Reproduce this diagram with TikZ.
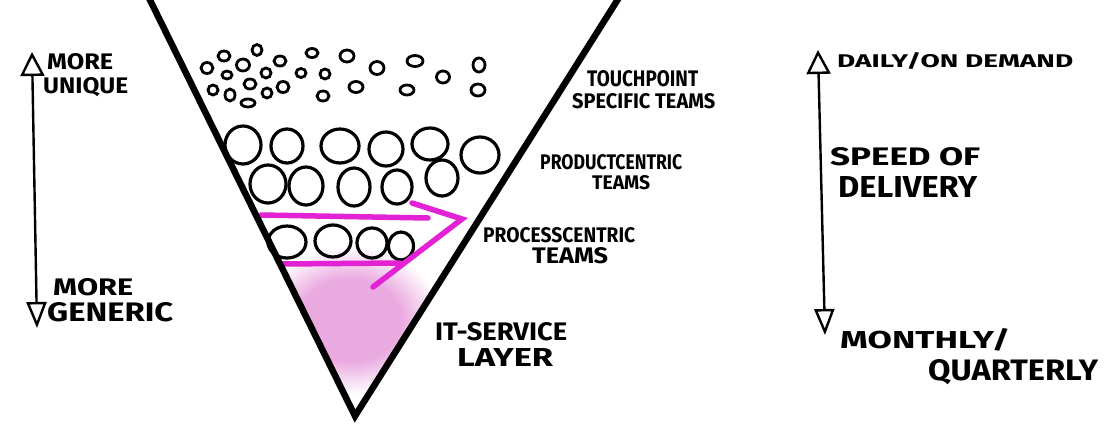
\documentclass[tikz,border=0pt]{standalone}
\usepackage{fontspec}
\setmainfont{Fira Sans}
\usepackage{graphicx}
\usepackage{xcolor}
\usepackage{tikz}
\usetikzlibrary{arrows.meta}

\definecolor{flowpink}{RGB}{226,34,212}
\definecolor{blobpink}{RGB}{234,170,224}
\pgfdeclareradialshading{blobshade}{\pgfpoint{0bp}{0bp}}{color(0bp)=(blobpink);
  color(14bp)=(blobpink); color(25bp)=(white); color(50bp)=(white)}
\newcommand{\sketchtext}[3]{\resizebox{#1pt}{#2pt}{\bfseries #3}}

\begin{document}
\begin{tikzpicture}[x=1pt, y=-1pt,
  funnel/.style={line width=6.5pt},
  team/.style={line width=3.2pt},
  flow/.style={draw=flowpink, line width=5.5pt, line cap=round},
  axisline/.style={line width=2.4pt,
    {Triangle[open,length=24pt,width=24pt]}-{Triangle[open,length=26pt,width=20pt]}},
  lbl/.style={anchor=west, inner sep=0pt}]
  \fill[white] (0,0) rectangle (1104,426);
  \useasboundingbox (0,0) rectangle (1104,426);
  % funil
  \coordinate (vleft) at (148,-4);
  \coordinate (vtip) at (355,416);
  \coordinate (vright) at (620,-4);
  % nevoa rosa no fundo do funil
  \begin{scope}
    \clip (vleft) -- (vtip) -- (vright) -- cycle;
    \shade[shading=blobshade] (350,320) ellipse [x radius=92pt, y radius=74pt];
  \end{scope}
  % equipes pequenas (touchpoint)
  \foreach \cx/\cy/\rx/\ry in {207/68/6/5.5, 224/56/6/5, 243/65/6.5/6, 257/50/5/5.5,
      280/61/6/5, 312/53/6/4.5, 347/56/7/6, 227/75/5/4, 266/73/5/5, 301/73/5/4.5,
      325/74/5/5, 377/68/7/6.5, 415/61/8/5.5, 443/77/6.5/6, 479/65/6/7, 213/90/5/5,
      230/95/5/6, 250/84/6/5, 267/93/5/5, 283/87/6/5.5, 248/103/7/4, 323/96/6/5,
      356/87/7/5.5, 407/90/7/5, 478/90/7/6}
    \draw[team, line width=2.8pt] (\cx,\cy) ellipse [x radius=\rx pt, y radius=\ry pt];
  % equipes de produto e de processo
  \foreach \cx/\cy/\rx/\ry in {243/145/18/19, 287/146/16/17, 340/146/19/17, 386/149/17/17,
      430/144/18/16, 480/155/19/18, 268/184/18/19, 306/186/17/19, 354/187/16/19,
      397/187/15/17, 442/178/16/18, 287/242/19/16, 333/241/18/16, 372/243/15/15,
      401/246/12.5/14}
    \draw[team] (\cx,\cy) ellipse [x radius=\rx pt, y radius=\ry pt];
  % setas de fluxo
  \draw[flow] (261,215) -- (428,218);
  \draw[flow] (412,203) -- (462,219) -- (373,287);
  \draw[flow] (282,264) -- (400,263);
  \draw[funnel] (vleft) -- (vtip) -- (vright);
  % eixo da esquerda
  \coordinate (uniqueEnd) at (32,52);
  \coordinate (genericEnd) at (37,328);
  \draw[axisline] (uniqueEnd) -- (genericEnd);
  \node[lbl] (more1) at (47,62) {\sketchtext{66}{16}{MORE}};
  \node[lbl] (unique) at (43,87) {\sketchtext{85}{16}{UNIQUE}};
  \node[lbl] (more2) at (53,287) {\sketchtext{80}{17}{MORE}};
  \node[lbl] (generic) at (47,312) {\sketchtext{126}{19}{GENERIC}};
  % eixo da direita
  \coordinate (dailyEnd) at (818,50);
  \coordinate (monthlyEnd) at (825,335);
  \draw[axisline] (dailyEnd) -- (monthlyEnd);
  \node[lbl] (daily) at (837,61) {\sketchtext{236}{15}{DAILY/ON DEMAND}};
  \node[lbl] (speed) at (830,157) {\sketchtext{150}{18}{SPEED OF}};
  \node[lbl] (delivery) at (838,187) {\sketchtext{139}{21}{DELIVERY}};
  \node[lbl] (monthly) at (840,340) {\sketchtext{170}{20}{MONTHLY/}};
  \node[lbl] (quarterly) at (928,372) {\sketchtext{170}{21}{QUARTERLY}};
  % camadas do funil
  \node[lbl] (touch1) at (587,79) {\sketchtext{111}{16}{TOUCHPOINT}};
  \node[lbl] (touch2) at (572,101) {\sketchtext{143}{15}{SPECIFIC TEAMS}};
  \node[lbl] (prod1) at (540,162) {\sketchtext{142}{15}{PRODUCTCENTRIC}};
  \node[lbl] (prod2) at (592,183) {\sketchtext{58}{14}{TEAMS}};
  \node[lbl] (proc1) at (483,235) {\sketchtext{152}{15}{PROCESSCENTRIC}};
  \node[lbl] (proc2) at (532,256) {\sketchtext{76}{16}{TEAMS}};
  \node[lbl] (itsvc1) at (435,332) {\sketchtext{132}{18}{IT-SERVICE}};
  \node[lbl] (itsvc2) at (457,357) {\sketchtext{96}{18}{LAYER}};
\end{tikzpicture}
\end{document}
